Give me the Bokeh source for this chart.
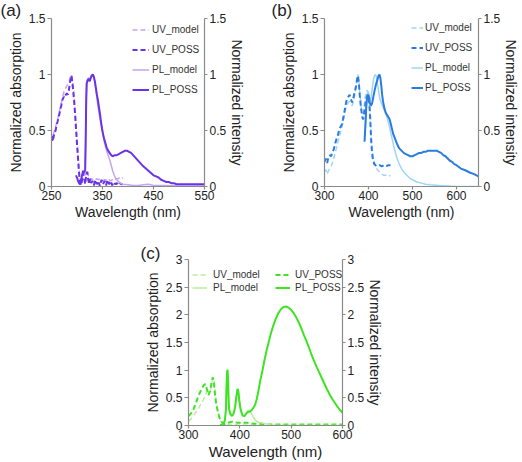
from bokeh.plotting import figure
from bokeh.models import LinearAxis, FixedTicker, Legend, LegendItem, Spacer, Range1d
from bokeh.layouts import column, row
from bokeh.embed import file_html
from bokeh.resources import INLINE

FONT = "Liberation Sans"

# ---------------- data: panel (a) ----------------
a_uv_wl = [250, 252, 254, 256, 258, 260, 262, 264, 266, 268, 270, 272, 274, 276, 278, 280, 282, 284, 286,
           288, 289, 290, 292, 294, 296, 298, 300, 302, 304, 306, 308, 310, 312, 314, 316, 318, 320, 322,
           324, 326, 328, 330, 333, 336, 339, 342, 345, 348, 351, 354, 357, 360, 363, 366, 369, 372, 375,
           378, 381, 384, 387, 390]
a_uv_model = [0.47, 0.43, 0.47, 0.50, 0.53, 0.57, 0.60, 0.64, 0.68, 0.72, 0.76, 0.80, 0.84, 0.86, 0.88, 0.90,
              0.91, 0.93, 0.96, 0.99, 1.00, 0.98, 0.92, 0.82, 0.70, 0.56, 0.42, 0.28, 0.15, 0.06, 0.02, 0.04,
              0.10, 0.14, 0.10, 0.12, 0.15, 0.10, 0.08, 0.06, 0.07, 0.06, 0.07, 0.06, 0.07, 0.06, 0.07, 0.06,
              0.05, 0.06, 0.06, 0.05, 0.06, 0.05, 0.06, 0.07, 0.06, 0.07, 0.07, 0.08, 0.07, 0.08]
a_uv_poss = [0.45, 0.40, 0.44, 0.48, 0.50, 0.55, 0.58, 0.62, 0.66, 0.70, 0.74, 0.78, 0.80, 0.79, 0.82, 0.83,
             0.82, 0.86, 0.92, 0.97, 0.99, 0.96, 0.88, 0.78, 0.66, 0.52, 0.38, 0.25, 0.12, 0.04, 0.01, 0.06,
             0.12, 0.08, 0.02, 0.10, 0.13, 0.06, 0.02, 0.07, 0.03, 0.05, 0.01, 0.06, 0.02, 0.05, 0.00, 0.06,
             0.02, 0.05, 0.01, 0.06, 0.02, 0.05, 0.01, 0.04, 0.02, 0.03, 0.01, 0.03, 0.02, 0.02]
a_plm_wl = [316, 317, 318, 319, 321, 323, 325, 327, 329, 331, 333, 335, 337, 339, 341, 343, 345, 347, 349,
            351, 353, 355, 358, 361, 364, 367, 370, 373, 376, 380, 385, 390, 400, 410, 420, 430, 440, 445,
            450, 470, 500, 550]
a_pl_model = [0.17, 0.42, 0.78, 0.93, 0.96, 0.97, 0.95, 0.98, 1.00, 0.99, 0.97, 0.93, 0.86, 0.79, 0.72,
              0.66, 0.61, 0.56, 0.51, 0.46, 0.41, 0.37, 0.32, 0.28, 0.24, 0.19, 0.14, 0.10, 0.07, 0.05,
              0.03, 0.02, 0.015, 0.01, 0.01, 0.015, 0.02, 0.015, 0.01, 0.01, 0.005, 0.005]
a_plp_wl = [298, 300, 302, 304, 306, 308, 310, 312, 314, 316, 317, 318, 319, 321, 323, 325, 327, 329, 331,
            333, 335, 337, 339, 341, 343, 345, 347, 349, 351, 353, 355, 358, 361, 364, 367, 370, 374, 378,
            382, 386, 390, 394, 398, 402, 406, 410, 414, 418, 422, 426, 430, 435, 440, 445, 450, 455, 460,
            465, 470, 475, 480, 485, 490, 495, 500, 510, 520, 530, 540, 550]
a_pl_poss = [0.10, 0.08, 0.05, 0.03, 0.02, 0.06, 0.10, 0.14, 0.12, 0.15, 0.40, 0.75, 0.92, 0.95, 0.96,
             0.94, 0.97, 0.99, 1.00, 0.98, 0.94, 0.88, 0.82, 0.77, 0.71, 0.65, 0.58, 0.52, 0.47, 0.43,
             0.40, 0.35, 0.32, 0.30, 0.28, 0.27, 0.28, 0.28, 0.29, 0.30, 0.31, 0.32, 0.32, 0.31, 0.30,
             0.28, 0.26, 0.24, 0.22, 0.20, 0.18, 0.16, 0.14, 0.12, 0.10, 0.09, 0.08, 0.06, 0.05, 0.04,
             0.04, 0.03, 0.03, 0.02, 0.02, 0.02, 0.02, 0.02, 0.02, 0.02]

# ---------------- data: panel (b) ----------------
b_uv_wl = [300, 303, 306, 309, 312, 315, 318, 321, 324, 327, 330, 333, 336, 339, 342, 345, 348, 351, 354,
           357, 360, 363, 366, 369, 372, 374, 376, 378, 380, 383, 386, 388, 391, 394, 397, 400, 402, 404,
           406, 408, 410, 413, 416, 420, 425, 430, 435, 440, 445, 450]
b_uv_model = [0.13, 0.15, 0.11, 0.14, 0.16, 0.18, 0.21, 0.25, 0.30, 0.34, 0.39, 0.43, 0.48, 0.52, 0.57,
              0.63, 0.69, 0.73, 0.75, 0.76, 0.74, 0.72, 0.77, 0.82, 0.90, 0.96, 1.00, 0.95, 0.85, 0.72,
              0.66, 0.65, 0.75, 0.84, 0.86, 0.82, 0.72, 0.58, 0.45, 0.35, 0.28, 0.22, 0.18, 0.15, 0.13,
              0.11, 0.10, 0.10, 0.09, 0.10]
b_uv_poss = [0.22, 0.25, 0.21, 0.26, 0.28, 0.27, 0.31, 0.33, 0.38, 0.42, 0.45, 0.50, 0.53, 0.55, 0.60,
             0.66, 0.73, 0.78, 0.80, 0.82, 0.78, 0.75, 0.80, 0.85, 0.90, 0.96, 0.99, 0.93, 0.82, 0.70,
             0.62, 0.60, 0.68, 0.76, 0.82, 0.80, 0.74, 0.60, 0.42, 0.30, 0.24, 0.20, 0.19, 0.18, 0.19,
             0.18, 0.19, 0.18, 0.19, 0.19]
b_plm_wl = [392, 394, 396, 398, 400, 402, 404, 406, 408, 410, 412, 414, 416, 418, 420, 423, 426, 430, 434,
            438, 442, 446, 450, 454, 458, 462, 466, 470, 475, 480, 485, 490, 495, 500, 510, 520, 530, 540,
            560, 580, 600, 650]
b_pl_model = [0.45, 0.62, 0.78, 0.85, 0.84, 0.80, 0.77, 0.80, 0.86, 0.92, 0.97, 0.99, 1.00, 0.98, 0.93,
              0.85, 0.78, 0.74, 0.70, 0.66, 0.62, 0.56, 0.49, 0.42, 0.35, 0.29, 0.24, 0.20, 0.16, 0.13,
              0.11, 0.09, 0.07, 0.06, 0.04, 0.03, 0.02, 0.015, 0.01, 0.005, 0.0, 0.0]
b_plp_wl = [391, 393, 395, 397, 399, 401, 403, 405, 408, 411, 414, 417, 420, 423, 425, 427, 429, 431, 433,
            436, 439, 442, 445, 448, 450, 453, 456, 459, 462, 466, 470, 475, 480, 485, 490, 495, 500, 505,
            510, 515, 520, 525, 530, 535, 540, 545, 550, 555, 560, 565, 570, 575, 580, 585, 590, 595, 600,
            610, 620, 630, 640, 650]
b_pl_poss = [0.40, 0.55, 0.72, 0.80, 0.82, 0.80, 0.75, 0.72, 0.74, 0.80, 0.86, 0.91, 0.95, 0.99, 1.00,
             0.97, 0.90, 0.82, 0.76, 0.70, 0.66, 0.64, 0.62, 0.60, 0.57, 0.52, 0.47, 0.44, 0.41, 0.37,
             0.34, 0.32, 0.30, 0.29, 0.28, 0.27, 0.27, 0.28, 0.29, 0.30, 0.30, 0.31, 0.31, 0.32, 0.32,
             0.32, 0.32, 0.32, 0.31, 0.30, 0.28, 0.27, 0.25, 0.23, 0.22, 0.20, 0.19, 0.16, 0.145, 0.125,
             0.11, 0.09]

# ---------------- data: panel (c) ----------------
c_uv_wl = [300, 305, 310, 315, 320, 325, 330, 333, 336, 339, 342, 345, 347, 349, 351, 353, 356, 359, 362,
           366, 370, 375, 380, 385, 390, 395, 400, 405, 410, 415, 420, 430, 440, 450, 470, 500, 550, 600]
c_uv_model = [0.08, 0.12, 0.18, 0.25, 0.32, 0.40, 0.48, 0.55, 0.61, 0.60, 0.62, 0.72, 0.85, 0.86, 0.70,
              0.50, 0.32, 0.18, 0.09, 0.04, 0.02, 0.02, 0.02, 0.02, 0.02, 0.01, 0.01, 0.01, 0.01, 0.01,
              0.01, 0.01, 0.01, 0.01, 0.01, 0.01, 0.01, 0.01]
c_uv_poss = [0.17, 0.22, 0.30, 0.42, 0.55, 0.65, 0.73, 0.75, 0.65, 0.55, 0.62, 0.78, 0.87, 0.82, 0.62,
             0.45, 0.30, 0.18, 0.10, 0.05, 0.02, 0.03, 0.06, 0.07, 0.06, 0.05, 0.05, 0.04, 0.05, 0.05,
             0.04, 0.03, 0.03, 0.02, 0.02, 0.02, 0.02, 0.02]
c_plm_wl = [362, 366, 369, 371, 373, 374, 375, 376, 377, 378, 379, 381, 383, 385, 387, 389, 391, 393, 395,
            396, 397, 399, 401, 403, 405, 407, 409, 411, 413, 415, 417, 419, 421, 424, 427, 430, 434, 438,
            442, 446, 450, 460, 480, 600]
c_pl_model = [0.0, 0.02, 0.05, 0.10, 0.30, 0.70, 0.95, 1.00, 0.85, 0.50, 0.30, 0.20, 0.17, 0.17, 0.19,
              0.25, 0.36, 0.52, 0.64, 0.67, 0.63, 0.46, 0.32, 0.24, 0.19, 0.17, 0.18, 0.20, 0.23, 0.26,
              0.28, 0.27, 0.24, 0.19, 0.14, 0.10, 0.07, 0.05, 0.05, 0.04, 0.03, 0.01, 0.0, 0.0]
c_plp_wl = [362, 366, 369, 371, 373, 374, 375, 376, 377, 378, 379, 381, 383, 385, 387, 389, 391, 393, 395,
            396, 397, 399, 401, 403, 405, 407, 409, 411, 413, 415, 417, 419, 421, 424, 427, 430, 433, 436,
            440, 444, 448, 452, 456, 460, 465, 470, 475, 480, 485, 490, 495, 500, 505, 510, 515, 520, 525,
            530, 535, 540, 545, 550, 555, 560, 565, 570, 575, 580, 585, 590, 595, 600]
c_pl_poss = [0.0, 0.02, 0.05, 0.10, 0.30, 0.70, 0.95, 1.01, 0.85, 0.50, 0.30, 0.22, 0.19, 0.18, 0.20,
             0.25, 0.35, 0.50, 0.63, 0.66, 0.62, 0.45, 0.32, 0.24, 0.19, 0.17, 0.17, 0.19, 0.22, 0.24,
             0.25, 0.25, 0.26, 0.29, 0.33, 0.38, 0.48, 0.62, 0.82, 0.99, 1.18, 1.35, 1.50, 1.65, 1.80,
             1.93, 2.03, 2.10, 2.14, 2.15, 2.13, 2.09, 2.03, 1.95, 1.86, 1.75, 1.63, 1.52, 1.40, 1.27,
             1.16, 1.05, 0.95, 0.85, 0.75, 0.65, 0.56, 0.48, 0.41, 0.34, 0.28, 0.23]

# ---------------- ticks ----------------
a_xticks = [250, 350, 450, 550]
b_xticks = [300, 400, 500, 600]
c_xticks = [300, 400, 500, 600]
ab_yticks = [0, 0.5, 1, 1.5]
ab_ylabels = ["0", "0.5", "1", "1.5"]
c_yticks = [0, 0.5, 1, 1.5, 2, 2.5, 3]
c_ylabels = ["0", "0.5", "1", "1.5", "2", "2.5", "3"]
series_names = ["UV_model", "UV_POSS", "PL_model", "PL_POSS"]

AX = "#8a8a8a"
TXT = "#222222"


def style_axis(ax, ticks, labels, tick_out, standoff, lab_standoff, lab_size="14px"):
    ax.ticker = FixedTicker(ticks=ticks)
    ax.major_label_overrides = {t: l for t, l in zip(ticks, labels)}
    ax.axis_line_color = AX
    ax.axis_line_width = 1.2
    ax.major_tick_line_color = AX
    ax.major_tick_line_width = 1.2
    ax.minor_tick_line_color = None
    ax.major_tick_in = 0
    ax.major_tick_out = tick_out
    ax.major_label_standoff = standoff
    ax.major_label_text_font = FONT
    ax.major_label_text_font_size = "12px"
    ax.major_label_text_color = TXT
    ax.axis_label_text_font = FONT
    ax.axis_label_text_font_size = lab_size
    ax.axis_label_text_font_style = "normal"
    ax.axis_label_text_color = TXT
    ax.axis_label_standoff = lab_standoff


def make_legend(renderers, names, loc, glyph_w, standoff, lh, sp):
    leg = Legend(items=[LegendItem(label=n, renderers=[renderers[n]]) for n in names],
                 location=loc, orientation="vertical")
    leg.background_fill_alpha = 0
    leg.border_line_alpha = 0
    leg.padding = 0
    leg.margin = 0
    leg.spacing = sp
    leg.label_height = lh
    leg.glyph_height = lh
    leg.glyph_width = glyph_w
    leg.label_standoff = standoff
    leg.label_text_font = FONT
    leg.label_text_font_size = "10px"
    leg.label_text_color = "#333333"
    return leg


def make_panel(tag, xr, yr, xticks, yticks, ylabels, w, h, borders, data, colors, tag_off, tag_standoff,
               xlab_size):
    p = figure(width=w, height=h, x_range=Range1d(*xr), y_range=Range1d(*yr), title=tag,
               output_backend="svg", toolbar_location=None,
               min_border_left=borders[0], min_border_right=borders[1],
               min_border_top=borders[2], min_border_bottom=borders[3])
    p.title.align = "left"
    p.title.offset = tag_off
    p.title.standoff = tag_standoff
    p.title.text_font = FONT
    p.title.text_font_size = "17px"
    p.title.text_font_style = "normal"
    p.title.text_color = TXT
    p.outline_line_color = None
    p.xgrid.visible = False
    p.ygrid.visible = False
    right = LinearAxis()
    p.add_layout(right, "right")
    style_axis(p.xaxis[0], xticks, [str(t) for t in xticks], 3, 1, 1, xlab_size)
    style_axis(p.yaxis[0], yticks, ylabels, 4, 2, 2)
    style_axis(right, yticks, ylabels, 3, 2, 0)
    p.xaxis[0].axis_label = "Wavelength (nm)"
    p.yaxis[0].axis_label = "Normalized absorption"
    right.axis_label = "Normalized intensity"
    light, dark = colors
    styles = {"UV_model": (light, "5 3", 1.5), "UV_POSS": (dark, "5 3", 2.0),
              "PL_model": (light, "solid", 1.5), "PL_POSS": (dark, "solid", 2.0)}
    rs = {}
    for name in series_names:
        xs, ys = data[name]
        c, d, lw = styles[name]
        rs[name] = p.line(xs, ys, line_color=c, line_dash=d, line_width=lw)
    return p, rs


pa, ra = make_panel("(a)", (250, 550), (0, 1.5), a_xticks, ab_yticks, ab_ylabels, 261, 224, (51, 57, 17, 38),
                    {"UV_model": (a_uv_wl, a_uv_model), "UV_POSS": (a_uv_wl, a_uv_poss),
                     "PL_model": (a_plm_wl, a_pl_model), "PL_POSS": (a_plp_wl, a_pl_poss)},
                    ("#c3a5f2", "#6a33e8"), -51, -3, "14px")
pa.add_layout(make_legend(ra, series_names, (81, 88), 17, 3, 17, 3))

pb, rb = make_panel("(b)", (300, 650), (0, 1.5), b_xticks, ab_yticks, ab_ylabels, 261, 224, (63, 44, 17, 38),
                    {"UV_model": (b_uv_wl, b_uv_model), "UV_POSS": (b_uv_wl, b_uv_poss),
                     "PL_model": (b_plm_wl, b_pl_model), "PL_POSS": (b_plp_wl, b_pl_poss)},
                    ("#9fd5f6", "#2a7be2"), -53, -3, "14px")
pb.add_layout(make_legend(rb, series_names, (87, 90), 12, 2, 17, 3))

pc, rc = make_panel("(c)", (300, 600), (0, 3), c_xticks, c_yticks, c_ylabels, 292, 238, (78, 60, 35, 34),
                    {"UV_model": (c_uv_wl, c_uv_model), "UV_POSS": (c_uv_wl, c_uv_poss),
                     "PL_model": (c_plm_wl, c_pl_model), "PL_POSS": (c_plp_wl, c_pl_poss)},
                    ("#b6ee9e", "#3ee424"), -48, -6, "15px")
pc.add_layout(make_legend(rc, ["UV_model", "PL_model"], (4, 132), 15, 6, 11, 2))
pc.add_layout(make_legend(rc, ["UV_POSS", "PL_POSS"], (87, 132), 15, 5, 11, 2))

layout = column(row(pa, pb), row(Spacer(width=110, height=238), pc))

open("out.html", "w").write(file_html(layout, INLINE))
